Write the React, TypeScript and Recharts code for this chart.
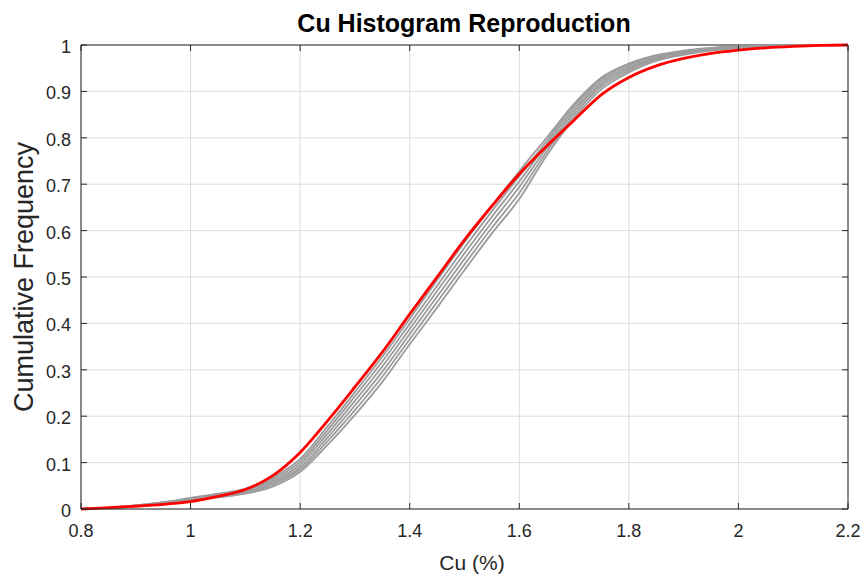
import React from 'react';
import {
  ComposedChart,
  Line,
  XAxis,
  YAxis,
  CartesianGrid,
  ReferenceLine,
} from 'recharts';

// Cu grade (%) sample points along the x axis
const cuValues = [
  0.8, 0.85, 0.9, 0.95, 1.0, 1.05, 1.1, 1.15, 1.2, 1.25, 1.3, 1.35, 1.4, 1.45,
  1.5, 1.55, 1.6, 1.65, 1.7, 1.75, 1.8, 1.85, 1.9, 1.95, 2.0, 2.05, 2.1, 2.15, 2.2,
];

// input data cdf (red)
const referenceCdf = [
  0, 0.003, 0.006, 0.01, 0.016, 0.027, 0.042, 0.072, 0.122, 0.19, 0.263, 0.338,
  0.42, 0.5, 0.58, 0.653, 0.722, 0.782, 0.838, 0.893, 0.93, 0.955, 0.971, 0.982,
  0.989, 0.994, 0.997, 0.999, 1,
];

// simulated realizations (grey)
const realization1 = [
  null, 0.003, 0.008, 0.015, 0.024, 0.033, 0.044, 0.068, 0.108, 0.178, 0.252, 0.328,
  0.41, 0.493, 0.575, 0.653, 0.728, 0.8, 0.873, 0.93, 0.96, 0.978, 0.988, 0.994,
  0.997, 0.999, 1, 1, 1,
];
const realization2 = [
  null, 0.003, 0.008, 0.014, 0.022, 0.031, 0.042, 0.064, 0.102, 0.17, 0.243, 0.318,
  0.399, 0.481, 0.563, 0.642, 0.717, 0.793, 0.868, 0.926, 0.957, 0.976, 0.986, 0.993,
  0.997, 0.999, 1, 1, 1,
];
const realization3 = [
  null, 0.002, 0.007, 0.013, 0.021, 0.029, 0.04, 0.06, 0.096, 0.162, 0.233, 0.307,
  0.388, 0.47, 0.551, 0.63, 0.706, 0.786, 0.862, 0.921, 0.953, 0.973, 0.985, 0.992,
  0.996, 0.998, 0.999, 1, 1,
];
const realization4 = [
  null, 0.002, 0.006, 0.012, 0.019, 0.028, 0.037, 0.056, 0.09, 0.154, 0.223, 0.296,
  0.377, 0.458, 0.539, 0.618, 0.694, 0.778, 0.856, 0.916, 0.949, 0.971, 0.983, 0.991,
  0.995, 0.998, 0.999, 1, 1,
];
const realization5 = [
  null, 0.001, 0.006, 0.011, 0.018, 0.026, 0.035, 0.052, 0.085, 0.146, 0.213, 0.285,
  0.366, 0.446, 0.527, 0.606, 0.681, 0.77, 0.849, 0.911, 0.945, 0.969, 0.981, 0.99,
  0.994, 0.997, 0.999, 1, 1,
];
const realization6 = [
  null, 0.001, 0.005, 0.01, 0.017, 0.025, 0.033, 0.048, 0.08, 0.138, 0.203, 0.274,
  0.355, 0.434, 0.515, 0.594, 0.668, 0.762, 0.842, 0.905, 0.941, 0.966, 0.979, 0.988,
  0.993, 0.996, 0.998, 0.999, 1,
];

const realizations = [
  realization1, realization2, realization3, realization4, realization5, realization6,
];

const xTicks = [0.8, 1, 1.2, 1.4, 1.6, 1.8, 2, 2.2];
const yTicks = [0, 0.1, 0.2, 0.3, 0.4, 0.5, 0.6, 0.7, 0.8, 0.9, 1];

const chartData = cuValues.map((cu, i) => {
  const row: any = { cu, ref: referenceCdf[i] };
  realizations.forEach((r, k) => {
    row[`sim${k}`] = r[i];
  });
  return row;
});

const fmt = (v: number) => String(Number(v.toFixed(1)));
const FONT = '"Liberation Sans", Arial, Helvetica, sans-serif';
const AXIS = '#262626';

// ticks point inward like the original (matlab style box)
const XTick = ({ x, y, payload }: any) => (
  <g>
    <line x1={x} x2={x} y1={y} y2={y - 6} stroke={AXIS} />
    <line x1={x} x2={x} y1={45} y2={51} stroke={AXIS} />
    <text x={x} y={y + 28} textAnchor="middle" fontSize={18} fill={AXIS} fontFamily={FONT}>
      {fmt(payload.value)}
    </text>
  </g>
);

const YTick = ({ x, y, payload }: any) => (
  <g>
    <line x1={x} x2={x + 6} y1={y} y2={y} stroke={AXIS} />
    <line x1={848} x2={842} y1={y} y2={y} stroke={AXIS} />
    <text x={x - 10} y={y + 8} textAnchor="end" fontSize={18} fill={AXIS} fontFamily={FONT}>
      {fmt(payload.value)}
    </text>
  </g>
);

export default function App() {
  return (
    <div style={{ position: 'absolute', left: 0, top: 0, width: 865, height: 577, background: '#fff' }}>
      <ComposedChart
        width={865}
        height={577}
        data={chartData}
        margin={{ top: 45, right: 17, bottom: 0, left: 0 }}
      >
        <text x={464} y={32} textAnchor="middle" fontSize={25} fontWeight="bold" fill="#000" fontFamily={FONT}>
          Cu Histogram Reproduction
        </text>
        <text
          x={0}
          y={0}
          transform="translate(33,277) rotate(-90)"
          textAnchor="middle"
          fontSize={27}
          fill={AXIS}
          fontFamily={FONT}
        >
          Cumulative Frequency
        </text>
        <text x={472} y={570} textAnchor="middle" fontSize={21} fill={AXIS} fontFamily={FONT}>
          Cu (%)
        </text>
        <CartesianGrid stroke="#dcdcdc" />
        <XAxis
          dataKey="cu"
          type="number"
          domain={[0.8, 2.2]}
          ticks={xTicks}
          height={68}
          tickSize={0}
          tickMargin={0}
          tick={<XTick />}
          stroke={AXIS}
        />
        <YAxis
          type="number"
          domain={[0, 1]}
          ticks={yTicks}
          width={81}
          tickSize={0}
          tickMargin={0}
          tick={<YTick />}
          stroke={AXIS}
        />
        <ReferenceLine y={1} stroke={AXIS} />
        <ReferenceLine x={2.2} stroke={AXIS} />
        {realizations.map((_, k) => (
          <Line
            key={k}
            dataKey={`sim${k}`}
            type="monotone"
            stroke="#9c9c9c"
            strokeWidth={1.8}
            dot={false}
            connectNulls
            isAnimationActive={false}
          />
        ))}
        <Line
          dataKey="ref"
          type="monotone"
          stroke="#ff0000"
          strokeWidth={2.8}
          dot={false}
          isAnimationActive={false}
        />
      </ComposedChart>
    </div>
  );
}
